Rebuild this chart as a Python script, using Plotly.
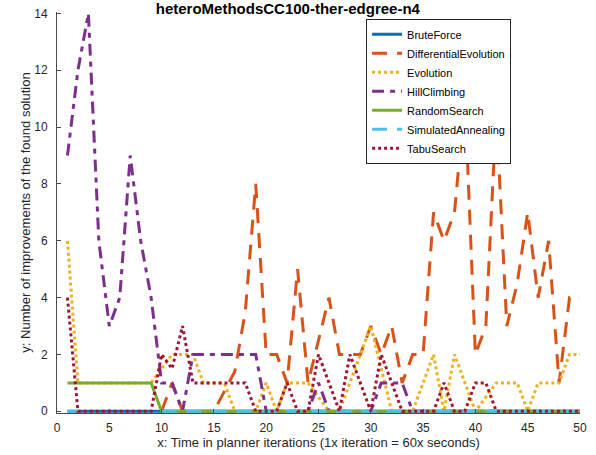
import plotly.graph_objects as go

iterations = list(range(1, 51))

brute_force = [0, 0, 0, 0, 0, 0, 0, 0, 0, 0,
               0, 0, 0, 0, 0, 0, 0, 0, 0, 0,
               0, 0, 0, 0, 0, 0, 0, 0, 0, 0,
               0, 0, 0, 0, 0, 0, 0, 0, 0, 0,
               0, 0, 0, 0, 0, 0, 0, 0, 0, 0]
differential_evolution = [None, None, None, None, None, None, None, None, None, 0,
                          1, 0, 0, 0, 0, 0.7, 1.4, 3.5, 8, 2,
                          2, 1, 5, 1, 2.5, 4, 2, 2, 2, 3,
                          2, 3, 1, 2, 2, 7, 6, 7, 11, 2,
                          3, 10.5, 3, 4.5, 7, 4, 6, 1, 4, 4]
evolution = [6, 1, 1, 1, 1, 1, 1, 1, 1, 1.5,
             2, 2, 2, 1, 1, 1, 0, 0, 0, 1,
             0, 1, 1, 1, 0.5, 0, 0, 1, 2, 3,
             1.5, 0, 0, 0, 1, 2, 0, 2, 1, 0,
             0.5, 1, 1, 1, 0, 1, 1, 1, 2, 2]
hill_climbing = [9, 12, 14, 6, 3, 4, 9, 6, 4, 1,
                 1, 0, 2, 2, 2, 2, 2, 2, 2, 0,
                 0, 0, 0, 0, 1, 0, 0, 0, 0, 0,
                 1, 1, 1, 0, 0, 0, 0, 0, 0, 0,
                 0, 0, 0, 0, 0, 0, 0, 0, 0, 0]
random_search = [1, 1, 1, 1, 1, 1, 1, 1, 1, 0,
                 0, 0, 0, 0, 0, 0, 0, 0, 0, 0,
                 0, 0, 0, 0, 0, 0, 0, 0, 0, 0,
                 0, 0, 0, 0, 0, 0, 0, 0, 0, 0,
                 0, 0, 0, 0, 0, 0, 0, 0, 0, 0]
simulated_annealing = [0, 0, None, None, None, None, None, None, None, 0,
                       0, 0, 0, 0, 0, 0, 0, 0, 0, 0,
                       0, 0, 0, 0, 0, 0, 0, 0, 0, 0,
                       0, 0, 0, 0, 0, 0, 0, 0, 0, 0,
                       0, 0, 0, 0, 0, 0, 0, 0, 0, 0]
tabu_search = [4, 0, 0, 0, 0, 0, 0, 0, 0, 2,
               1.5, 3, 1, 1, 1, 1, 1, 1, 0, 0,
               0, 1, 0, 0, 2, 1, 0, 2, 1, 0,
               2, 1, 0, 0, 0, 0, 1, 0, 0, 1,
               1, 0, 0, 0, 0, 0, 0, 0, 0, 0]

series_names = ["BruteForce", "DifferentialEvolution", "Evolution", "HillClimbing",
                "RandomSearch", "SimulatedAnnealing", "TabuSearch"]
series_values = [brute_force, differential_evolution, evolution, hill_climbing,
                 random_search, simulated_annealing, tabu_search]
series_colors = ["#0072BD", "#D95319", "#EDB120", "#7E2F8E", "#77AC30", "#4DBEEE", "#A2142F"]
series_dash = ["solid", "15px,10px", "3px,3px", "12px,6px,5px,6px", "solid", "15px,10px", "3px,3px"]

x_ticks = [0, 5, 10, 15, 20, 25, 30, 35, 40, 45, 50]
y_ticks = [0, 2, 4, 6, 8, 10, 12, 14]

title_text = "heteroMethodsCC100-ther-edgree-n4"
x_title = "x: Time in planner iterations (1x iteration = 60x seconds)"
y_title = "y: Number of improvements of the found solution"

fig = go.Figure()
for name, vals, col, dash in zip(series_names, series_values, series_colors, series_dash):
    fig.add_trace(go.Scatter(x=iterations, y=vals, name=name, mode="lines",
                             line=dict(color=col, width=3, dash=dash)))

axis_color = "#4a4a4a"
font_family = "Liberation Sans, Arial, sans-serif"
fig.update_layout(
    width=596, height=455,
    margin=dict(l=57, r=16, t=12, b=42, autoexpand=False),
    paper_bgcolor="white", plot_bgcolor="white",
    font=dict(family=font_family, size=12, color="#262626"),
    title=dict(text="<b>" + title_text + "</b>", x=0.483, xref="container", xanchor="center",
               y=0.992, yref="container", yanchor="top", pad=dict(t=0, b=0),
               font=dict(size=15, color="#000000")),
    legend=dict(x=0.591, y=0.983, xanchor="left", yanchor="top",
                bgcolor="white", bordercolor="#262626", borderwidth=1,
                font=dict(size=11, color="#000000"), tracegroupgap=0),
    showlegend=True,
)
fig.update_xaxes(range=[0, 50], tickvals=x_ticks, ticks="inside", ticklen=4,
                 tickcolor=axis_color, showline=True, linecolor=axis_color, linewidth=1,
                 showgrid=False, zeroline=False, mirror=False, automargin=False,
                 ticklabelstandoff=4,
                 title=dict(text=x_title, standoff=3, font=dict(size=13)),
                 tickfont=dict(size=12, color="#262626"))
fig.update_yaxes(range=[-0.06, 14.05], tickvals=y_ticks, ticks="inside", ticklen=4,
                 tickcolor=axis_color, showline=True, linecolor=axis_color, linewidth=1,
                 showgrid=False, zeroline=False, mirror=False, automargin=False,
                 ticklabelstandoff=6,
                 title=dict(text=y_title, standoff=0, font=dict(size=13)),
                 tickfont=dict(size=12, color="#262626"))

fig.write_html("out.html", config={"displayModeBar": False},
               post_script="document.body.style.margin='0px';")
